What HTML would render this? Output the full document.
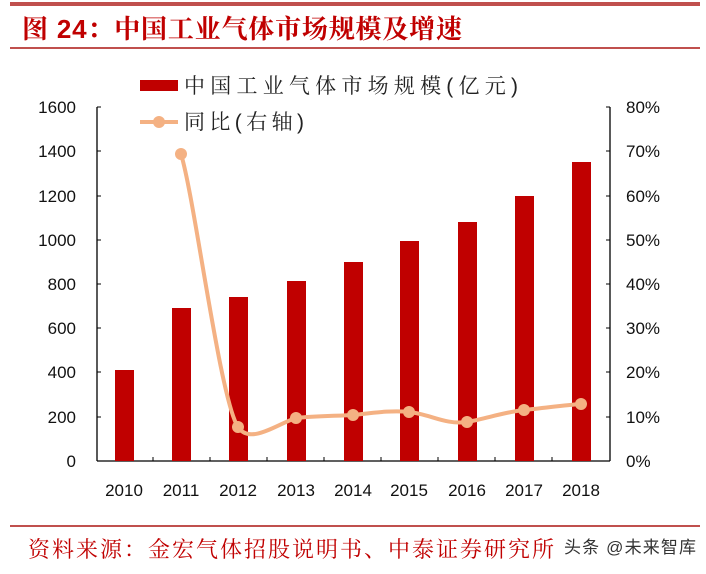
<!DOCTYPE html>
<html><head><meta charset="utf-8"><style>
body{margin:0;background:#fff;width:706px;height:569px;overflow:hidden;font-family:"Liberation Sans","Noto Sans CJK SC",sans-serif}
</style></head><body>
<svg width="706" height="569" xmlns="http://www.w3.org/2000/svg">
<rect x="10" y="2" width="690" height="4" fill="#c0504d"/>
<text x="22" y="38" font-size="26" font-weight="bold" fill="#c00000" textLength="440" lengthAdjust="spacing" font-family="'Liberation Sans','Noto Serif CJK SC',serif">图 24：中国工业气体市场规模及增速</text>
<rect x="10" y="47" width="690" height="2" fill="#c0504d"/>
<rect x="140" y="80" width="38" height="11" fill="#c00000"/>
<text x="184" y="93" font-size="21" fill="#222" textLength="334" lengthAdjust="spacing" font-family="'Liberation Sans','Noto Serif CJK SC',serif">中国工业气体市场规模(亿元)</text>
<line x1="140" y1="122" x2="178" y2="122" stroke="#f4b183" stroke-width="4"/>
<circle cx="159" cy="122" r="6" fill="#f4b183"/>
<text x="184" y="129" font-size="21" fill="#222" textLength="120" lengthAdjust="spacing" font-family="'Liberation Sans','Noto Serif CJK SC',serif">同比(右轴)</text>
<g stroke="#000" stroke-width="1.3" fill="none">
<line x1="97" y1="107" x2="97" y2="461"/>
<line x1="610" y1="107" x2="610" y2="461"/>
<line x1="97" y1="461" x2="610" y2="461"/>
</g>
<g stroke="#000" stroke-width="1">
<line x1="97" y1="107" x2="101" y2="107"/><line x1="97" y1="151" x2="101" y2="151"/><line x1="97" y1="196" x2="101" y2="196"/><line x1="97" y1="240" x2="101" y2="240"/><line x1="97" y1="284" x2="101" y2="284"/><line x1="97" y1="328" x2="101" y2="328"/><line x1="97" y1="372" x2="101" y2="372"/><line x1="97" y1="417" x2="101" y2="417"/>
<line x1="606" y1="107" x2="610" y2="107"/><line x1="606" y1="151" x2="610" y2="151"/><line x1="606" y1="196" x2="610" y2="196"/><line x1="606" y1="240" x2="610" y2="240"/><line x1="606" y1="284" x2="610" y2="284"/><line x1="606" y1="328" x2="610" y2="328"/><line x1="606" y1="372" x2="610" y2="372"/><line x1="606" y1="417" x2="610" y2="417"/>
<line x1="153" y1="457" x2="153" y2="461"/><line x1="210" y1="457" x2="210" y2="461"/><line x1="267" y1="457" x2="267" y2="461"/><line x1="324" y1="457" x2="324" y2="461"/><line x1="381" y1="457" x2="381" y2="461"/><line x1="438" y1="457" x2="438" y2="461"/><line x1="495" y1="457" x2="495" y2="461"/><line x1="552" y1="457" x2="552" y2="461"/>
</g>
<g font-size="17" fill="#111" text-anchor="end">
<text x="76" y="113">1600</text><text x="76" y="157">1400</text><text x="76" y="202">1200</text><text x="76" y="246">1000</text><text x="76" y="290">800</text><text x="76" y="334">600</text><text x="76" y="378">400</text><text x="76" y="423">200</text><text x="76" y="467">0</text>
</g>
<g font-size="17" fill="#111">
<text x="626" y="113">80%</text><text x="626" y="157">70%</text><text x="626" y="202">60%</text><text x="626" y="246">50%</text><text x="626" y="290">40%</text><text x="626" y="334">30%</text><text x="626" y="378">20%</text><text x="626" y="423">10%</text><text x="626" y="467">0%</text>
</g>
<g font-size="17" fill="#111" text-anchor="middle">
<text x="124" y="496">2010</text><text x="181" y="496">2011</text><text x="238" y="496">2012</text><text x="296" y="496">2013</text><text x="353" y="496">2014</text><text x="409" y="496">2015</text><text x="467" y="496">2016</text><text x="524" y="496">2017</text><text x="581" y="496">2018</text>
</g>
<g fill="#c00000">
<rect x="115" y="370" width="19" height="91"/>
<rect x="172" y="308" width="19" height="153"/>
<rect x="229" y="297" width="19" height="164"/>
<rect x="287" y="281" width="19" height="180"/>
<rect x="344" y="262" width="19" height="199"/>
<rect x="400" y="241" width="19" height="220"/>
<rect x="458" y="222" width="19" height="239"/>
<rect x="515" y="196" width="19" height="265"/>
<rect x="572" y="162" width="19" height="299"/>
</g>
<path d="M181,154 C195,200 220,400 238,427 C250,445 275,425 296,418 C315,416 335,416 353,415 C372,413 392,410 409,412 C430,414 445,425 467,422 C488,418 505,412 524,410 C545,408 565,405 581,404" fill="none" stroke="#f4b183" stroke-width="4"/>
<g fill="#f4b183">
<circle cx="181" cy="154" r="6"/><circle cx="238" cy="427" r="6"/><circle cx="296" cy="418" r="6"/><circle cx="353" cy="415" r="6"/><circle cx="409" cy="412" r="6"/><circle cx="467" cy="422" r="6"/><circle cx="524" cy="410" r="6"/><circle cx="581" cy="404" r="6"/>
</g>
<rect x="10" y="525" width="690" height="2" fill="#c0504d"/>
<text x="28" y="557" font-size="22" fill="#c00000" textLength="526" lengthAdjust="spacing" font-family="'Liberation Serif','Noto Serif CJK SC',serif">资料来源：金宏气体招股说明书、中泰证券研究所</text>
<text x="564" y="553" font-size="17" fill="#333" textLength="132" lengthAdjust="spacing">头条 @未来智库</text>
</svg>
</body></html>
